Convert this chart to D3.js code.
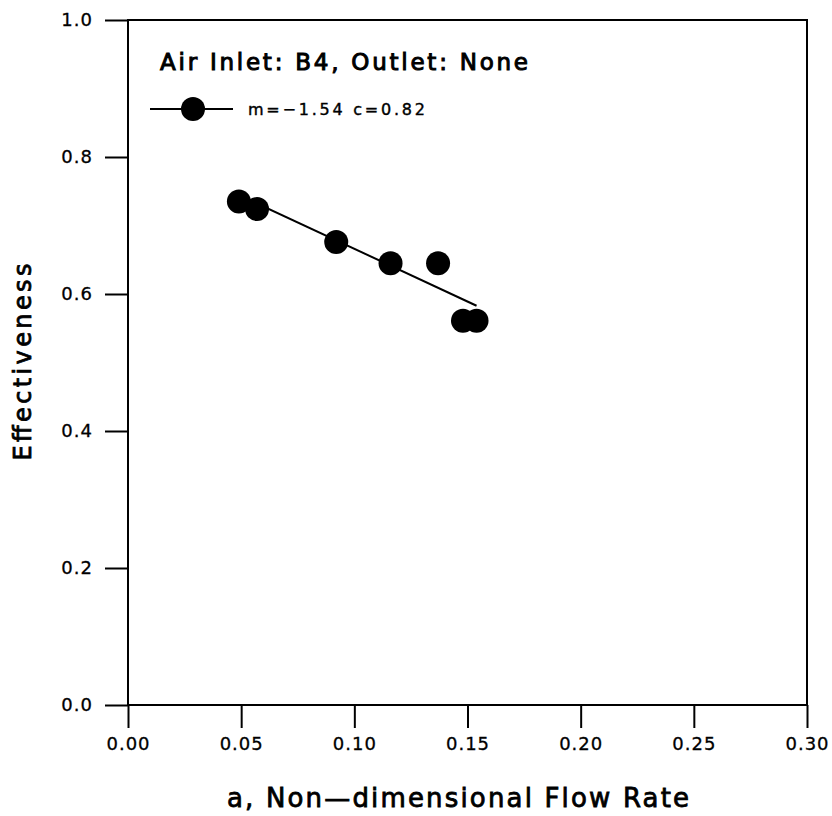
<!DOCTYPE html>
<html lang="en">
<head>
<script type="text/javascript" src="https://d3js.org/d3.v7.min.js"></script>
<style>
    body { margin: 0; background: #fff; }
    svg text { font-family: "DejaVu Sans", sans-serif; fill: #000; }
</style>
</head>
<body>
<div id="container"></div>
<script>
    // measured points (a, effectiveness)
    var flowRate = [0.049, 0.057, 0.092, 0.116, 0.137, 0.148, 0.154],
        effectiveness = [0.735, 0.724, 0.676, 0.645, 0.645, 0.561, 0.561];
    var slope = -1.54, intercept = 0.82;
    var xTicks = [0, 0.05, 0.10, 0.15, 0.20, 0.25, 0.30],
        yTicks = [0, 0.2, 0.4, 0.6, 0.8, 1.0];

    var width = 832, height = 816;
    var plot = {left: 128, right: 807, top: 20, bottom: 705};

    var svg = d3.select("#container").append("svg")
        .attr("width", width)
        .attr("height", height);

    var x = d3.scaleLinear().domain([0, 0.30]).range([plot.left, plot.right]);
    var y = d3.scaleLinear().domain([0, 1.0]).range([plot.bottom, plot.top]);

    // frame
    svg.append("rect")
        .attr("x", plot.left).attr("y", plot.top)
        .attr("width", plot.right - plot.left).attr("height", plot.bottom - plot.top)
        .attr("fill", "none").attr("stroke", "#000").attr("stroke-width", 2);

    var xAxis = svg.append("g")
        .attr("transform", "translate(0," + plot.bottom + ")")
        .call(d3.axisBottom(x).tickValues(xTicks).tickSize(23).tickPadding(9)
            .tickFormat(d3.format(".2f")));
    var yAxis = svg.append("g")
        .attr("transform", "translate(" + plot.left + ",0)")
        .call(d3.axisLeft(y).tickValues(yTicks).tickSize(23).tickPadding(12)
            .tickFormat(d3.format(".1f")));

    [xAxis, yAxis].forEach(function(g) {
        g.select(".domain").remove();
        g.selectAll("line").attr("stroke", "#000").attr("stroke-width", 2);
        g.selectAll("text")
            .style("font-family", "DejaVu Sans, sans-serif")
            .style("font-size", "18px")
            .style("letter-spacing", "1px")
            .attr("fill", "#000")
            .attr("stroke", "#000").attr("stroke-width", 0.3);
    });

    // fitted line
    var xs = d3.extent(flowRate);
    svg.append("line")
        .attr("x1", x(xs[0])).attr("y1", y(slope * xs[0] + intercept))
        .attr("x2", x(xs[1])).attr("y2", y(slope * xs[1] + intercept))
        .attr("stroke", "#000").attr("stroke-width", 2);

    svg.selectAll("circle.pt")
        .data(flowRate.map(function(d, i) { return [d, effectiveness[i]]; }))
        .enter().append("circle")
        .attr("class", "pt")
        .attr("cx", function(d) { return x(d[0]); })
        .attr("cy", function(d) { return y(d[1]); })
        .attr("r", 12)
        .attr("fill", "#000");

    // legend
    svg.append("text")
        .attr("x", 160).attr("y", 70)
        .style("font-size", "23px")
        .attr("stroke", "#000").attr("stroke-width", 1)
        .attr("textLength", 368).attr("lengthAdjust", "spacing")
        .text("Air Inlet: B4, Outlet: None");

    svg.append("line")
        .attr("x1", 150).attr("x2", 233).attr("y1", 109).attr("y2", 109)
        .attr("stroke", "#000").attr("stroke-width", 2);
    svg.append("circle")
        .attr("cx", 193).attr("cy", 109).attr("r", 12).attr("fill", "#000");
    svg.append("text")
        .attr("x", 248).attr("y", 115)
        .style("font-size", "16px")
        .attr("stroke", "#000").attr("stroke-width", 0.4)
        .attr("textLength", 177).attr("lengthAdjust", "spacing")
        .text("m=\u22121.54  c=0.82");

    // axis titles
    svg.append("text")
        .attr("x", 458).attr("y", 807)
        .attr("text-anchor", "middle")
        .style("font-size", "26px")
        .attr("stroke", "#000").attr("stroke-width", 0.8)
        .attr("textLength", 462).attr("lengthAdjust", "spacing")
        .text("a, Non\u2014dimensional Flow Rate");

    svg.append("text")
        .attr("transform", "translate(31,362) rotate(-90)")
        .attr("text-anchor", "middle")
        .style("font-size", "24px")
        .attr("stroke", "#000").attr("stroke-width", 0.8)
        .attr("textLength", 197).attr("lengthAdjust", "spacing")
        .text("Effectiveness");
</script>
</body>
</html>
